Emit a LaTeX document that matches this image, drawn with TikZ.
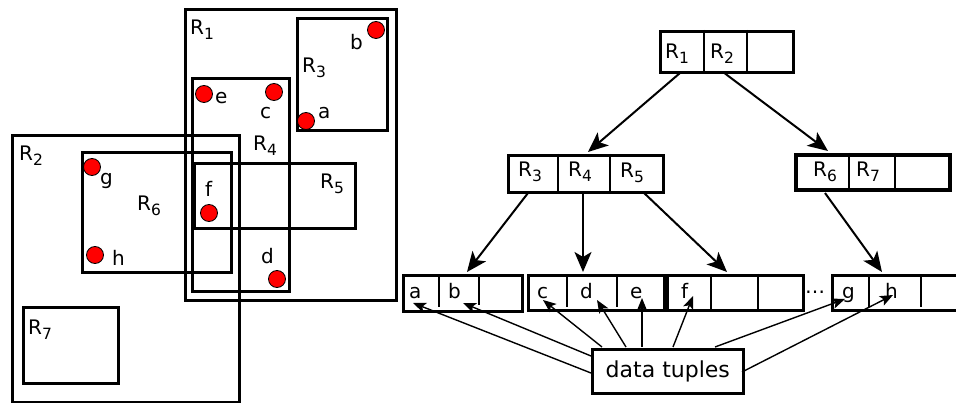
\documentclass[tikz,border=0pt]{standalone}
\usepackage{fontspec}
\setmainfont{DejaVu Sans}
\usetikzlibrary{arrows.meta}
% lowered index digit for the region names
\newcommand\rsub[1]{\raisebox{-4.5pt}{\fontsize{15.5}{16}\selectfont #1}}
\newcommand\Rl[1]{R\rsub{#1}}

\begin{document}
\begin{tikzpicture}[x=1pt,y=-1pt,
  lbl/.style={anchor=base west, inner sep=0pt, font=\fontsize{20}{24}\selectfont},
  region/.style={draw, line width=3pt},
  pt/.style={circle, draw=black, line width=0.8pt, fill=red, minimum size=17pt, inner sep=0pt},
  box/.style={draw, line width=3pt, inner sep=0pt, anchor=north west},
  div/.style={line width=2pt},
  tree/.style={line width=2pt, -{Stealth[length=20pt,width=17pt,inset=5pt]}},
  ptr/.style={line width=1.4pt, -{Stealth[length=13pt,width=10.5pt,inset=3pt]}},
]
\useasboundingbox (0,0) rectangle (956,403);
\clip (0,0) rectangle (956,403);

% ---------- spatial layout of the regions ----------
\draw[region] (185,10) rectangle (396,301);   % R1
\draw[region] (297,19) rectangle (387,131);   % R3
\draw[region] (192,79) rectangle (289,292);   % R4
\draw[region] (12,136) rectangle (239,402);   % R2
\draw[region] (82,153) rectangle (231,273);   % R6
\draw[region] (194,164) rectangle (355,229);  % R5
\draw[region] (23,308) rectangle (118,383);   % R7

% data points
\node[pt] (pb) at (376,30) {};
\node[pt] (pe) at (204,94) {};
\node[pt] (pc) at (274,92) {};
\node[pt] (pa) at (306,121) {};
\node[pt] (pg) at (92,167) {};
\node[pt] (pf) at (209,213) {};
\node[pt] (ph) at (95,255) {};
\node[pt] (pd) at (277,279) {};

% region and point labels
\node[lbl] (tR1) at (190,35) {\Rl{1}};
\node[lbl] (tb)  at (350,50) {b};
\node[lbl] (tR3) at (302,73) {\Rl{3}};
\node[lbl] (te)  at (215,104) {e};
\node[lbl] (tc)  at (260,119) {c};
\node[lbl] (ta)  at (318,119) {a};
\node[lbl] (tR4) at (253,151) {\Rl{4}};
\node[lbl] (tR2) at (19,161) {\Rl{2}};
\node[lbl] (tg)  at (100,185) {g};
\node[lbl] (tR6) at (137,211) {\Rl{6}};
\node[lbl] (tf)  at (205,197) {f};
\node[lbl] (tR5) at (320,189) {\Rl{5}};
\node[lbl] (th)  at (112,266) {h};
\node[lbl] (td)  at (261,264) {d};
\node[lbl] (tR7) at (28,335) {\Rl{7}};

% ---------- R-tree ----------
% root
\node[box, minimum width=133pt, minimum height=41pt] (root) at (659,30) {};
\draw[div] (704,30) -- (704,71);
\draw[div] (747,30) -- (747,71);
\node[lbl] (kR1) at (665,59) {\Rl{1}};
\node[lbl] (kR2) at (710,59) {\Rl{2}};

% inner nodes
\node[box, minimum width=155pt, minimum height=37pt] (inA) at (507,154) {};
\draw[div] (558,154) -- (558,191);
\draw[div] (610,154) -- (610,191);
\node[lbl] (kR3) at (518,177) {\Rl{3}};
\node[lbl] (kR4) at (568,177) {\Rl{4}};
\node[lbl] (kR5) at (620,178) {\Rl{5}};

\node[box, line width=4pt, minimum width=154pt, minimum height=35pt] (inB) at (794,153) {};
\draw[div] (849,153) -- (849,188);
\draw[div] (895,153) -- (895,188);
\node[lbl] (kR6) at (813,177) {\Rl{6}};
\node[lbl] (kR7) at (856,177) {\Rl{7}};

% leaves
\node[box, line width=3.3pt, minimum width=119pt, minimum height=36pt] (lf1) at (402,274) {};
\draw[div] (439,275) -- (439,307);
\draw[div] (479,277) -- (479,305);
\node[lbl] (la) at (409,299) {a};
\node[lbl] (lb) at (448,299) {b};

\node[box, line width=3.3pt, minimum width=136pt, minimum height=35pt] (lf2) at (527,274) {};
\draw[div] (567,275) -- (567,307);
\draw[div] (617,275) -- (617,307);
\node[lbl] (lc) at (537,299) {c};
\node[lbl] (ld) at (580,299) {d};
\node[lbl] (le) at (630,299) {e};

\node[box, line width=3.3pt, minimum width=136pt, minimum height=35pt] (lf3) at (666,274) {};
\draw[div] (711,274) -- (711,309);
\draw[div] (758,274) -- (758,309);
\node[lbl] (lf) at (681,299) {f};

\node[lbl] (gap) at (805,294) {…};

\node[box, line width=3.3pt, minimum width=140pt, minimum height=35pt] (lf4) at (831,274) {};
\draw[div] (869,275) -- (869,307);
\draw[div] (921,277) -- (921,307);
\node[lbl] (lg) at (842,299) {g};
\node[lbl] (lh) at (885,299) {h};

% tree arrows
\coordinate (r-o1) at (680,73);   \coordinate (a-i) at (588,152);
\coordinate (r-o2) at (723,72);   \coordinate (b-i) at (828,151);
\coordinate (a-o1) at (528,193);  \coordinate (l1-i) at (467,272);
\coordinate (a-o2) at (583,193);  \coordinate (l2-i) at (583,272);
\coordinate (a-o3) at (643,192);  \coordinate (l3-i) at (727,272);
\coordinate (b-o1) at (825,193);  \coordinate (l4-i) at (882,272);
\draw[tree] (r-o1) -- (a-i);
\draw[tree] (r-o2) -- (b-i);
\draw[tree] (a-o1) -- (l1-i);
\draw[tree] (a-o2) -- (l2-i);
\draw[tree] (a-o3) -- (l3-i);
\draw[tree] (b-o1) -- (l4-i);

% data tuples and their pointers
\node[box, line width=2.6pt, minimum width=151pt, minimum height=44pt,
      font=\fontsize{22}{26}\selectfont] (dt) at (591,348) {data tuples};
\coordinate (dt-a) at (591,373);  \coordinate (pt-a) at (413,303);
\coordinate (dt-b) at (591,356);  \coordinate (pt-b) at (463,303);
\coordinate (dt-c) at (602,347);  \coordinate (pt-c) at (543,300);
\coordinate (dt-d) at (626,347);  \coordinate (pt-d) at (597,300);
\coordinate (dt-e) at (642,347);  \coordinate (pt-e) at (642,298);
\coordinate (dt-f) at (673,347);  \coordinate (pt-f) at (693,296);
\coordinate (dt-g) at (715,347);  \coordinate (pt-g) at (845,299);
\coordinate (dt-h) at (742,372);  \coordinate (pt-h) at (893,295);
\foreach \k in {a,b,c,d,e,f,g,h}
  \draw[ptr] (dt-\k) -- (pt-\k);
\end{tikzpicture}
\end{document}
